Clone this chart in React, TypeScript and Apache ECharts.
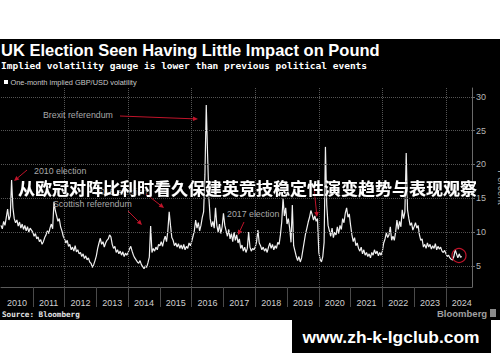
import React, { useEffect, useRef } from "react";
import * as echarts from "echarts";

// ---- Data (semi-monthly readings, % one-month implied GBP/USD vol) ----
const yearStarts = [2010, 2011, 2012, 2013, 2014, 2015, 2016, 2017, 2018, 2019, 2020, 2021, 2022, 2023, 2024];
const vol2010 = [11.0, 10.5, 11.6, 11.0, 12.2, 13.4, 11.8, 12.4, 17.7, 13.6, 12.0, 11.4, 11.8, 10.9, 11.5, 10.6, 11.2, 10.4, 11.0, 10.2, 10.8, 10.0, 10.6, 10.3];
const vol2011 = [10.0, 9.4, 9.8, 9.0, 9.3, 8.6, 8.9, 8.2, 8.6, 9.2, 9.6, 10.2, 9.8, 10.6, 11.2, 10.5, 14.5, 13.2, 12.4, 11.6, 12.0, 10.8, 10.2, 9.4];
const vol2012 = [9.0, 8.4, 8.8, 7.9, 8.2, 7.4, 7.8, 7.2, 8.0, 7.1, 7.4, 6.8, 7.0, 6.4, 6.8, 6.1, 6.5, 5.9, 6.2, 5.6, 5.4, 4.8, 5.2, 5.8];
const vol2013 = [6.5, 7.6, 8.4, 9.1, 8.2, 8.6, 7.8, 8.4, 8.8, 9.0, 9.6, 9.3, 8.2, 7.6, 7.9, 7.0, 7.4, 6.8, 7.2, 6.6, 7.1, 6.4, 6.9, 6.6];
const vol2014 = [7.0, 7.5, 7.9, 7.2, 6.6, 6.2, 5.9, 5.6, 5.4, 5.8, 5.2, 4.9, 4.6, 5.0, 4.8, 5.5, 6.3, 10.9, 7.0, 7.6, 7.2, 7.8, 7.4, 8.2];
const vol2015 = [8.0, 8.6, 7.9, 8.8, 9.4, 8.6, 10.2, 13.0, 11.0, 9.2, 8.8, 8.0, 8.4, 7.8, 8.3, 7.6, 8.1, 7.5, 8.2, 7.4, 7.9, 7.6, 8.4, 8.0];
const vol2016 = [8.6, 9.4, 10.2, 11.8, 10.6, 11.4, 10.2, 11.0, 12.2, 13.0, 18.5, 28.8, 21.5, 15.0, 12.0, 10.8, 11.6, 10.6, 13.6, 11.0, 10.0, 11.2, 9.8, 10.8];
const vol2017 = [12.8, 11.0, 10.2, 9.4, 10.4, 9.0, 9.8, 8.6, 10.0, 8.8, 9.6, 8.4, 9.0, 7.6, 8.1, 7.2, 7.8, 7.0, 7.6, 10.0, 7.8, 7.2, 7.6, 7.4];
const vol2018 = [7.8, 8.6, 10.3, 8.4, 8.0, 7.4, 7.8, 7.2, 7.6, 7.0, 7.8, 8.4, 7.6, 8.2, 7.4, 8.0, 7.6, 8.5, 8.2, 9.6, 11.5, 15.0, 12.4, 13.6];
const vol2019 = [11.2, 12.0, 10.6, 8.5, 14.0, 8.0, 7.2, 6.4, 5.8, 6.4, 5.6, 6.2, 7.4, 8.6, 9.8, 10.6, 11.5, 12.2, 13.2, 12.6, 11.8, 12.4, 11.6, 12.0];
const vol2020 = [7.0, 6.0, 5.6, 6.4, 8.5, 22.6, 14.0, 11.0, 10.2, 9.4, 10.6, 9.2, 10.0, 9.6, 10.8, 9.8, 11.0, 10.4, 12.0, 11.4, 12.8, 13.6, 12.2, 12.7];
const vol2021 = [11.0, 9.6, 8.6, 9.2, 8.0, 8.4, 7.6, 7.2, 7.8, 6.8, 7.4, 6.6, 7.0, 6.4, 6.8, 6.2, 7.0, 6.6, 7.4, 6.8, 7.2, 6.5, 7.0, 6.6];
const vol2022 = [7.2, 8.4, 9.0, 9.9, 9.2, 9.6, 10.8, 8.8, 9.4, 8.8, 10.0, 11.8, 10.4, 11.6, 10.8, 13.3, 12.0, 13.0, 21.7, 13.3, 12.0, 11.0, 11.4, 10.3];
const vol2023 = [10.8, 11.4, 10.6, 11.0, 9.6, 8.8, 9.0, 7.8, 8.2, 7.6, 8.4, 7.8, 8.2, 7.5, 8.0, 7.6, 8.3, 7.4, 7.9, 7.5, 7.8, 7.2, 7.0, 7.3];
const vol2024 = [6.8, 6.4, 6.6, 6.2, 6.0, 5.9, 6.4, 7.4, 6.8, 6.2, 6.8, 6.3, 6.4];
const volByYear = [vol2010, vol2011, vol2012, vol2013, vol2014, vol2015, vol2016, vol2017, vol2018, vol2019, vol2020, vol2021, vol2022, vol2023, vol2024];

const xTickYears = [2011, 2012, 2013, 2014, 2015, 2016, 2017, 2018, 2019, 2020, 2021, 2022, 2023, 2024];
const xLabelYears = [2010, 2011, 2012, 2013, 2014, 2015, 2016, 2017, 2018, 2019, 2020, 2021, 2022, 2023, 2024];
const gridYears = [2012, 2014, 2016, 2018, 2020, 2022, 2024];
const yTicks = [5, 10, 15, 20, 25, 30];

const titleText = "UK Election Seen Having Little Impact on Pound";
const subtitleText = "Implied volatility gauge is lower than previous political events";
const legendText = "One-month implied GBP/USD volatility";
const sourceText = "Source: Bloomberg";
const overlayText = "从欧冠对阵比利时看久保建英竞技稳定性演变趋势与表现观察";
const watermarkText = "www.zh-k-lgclub.com";

const annotationLabels = ["Brexit referendum", "2010 election", "2015 election", "Scottish referendum", "2017 election"];

const RED = "#c0142a";

function arrow(x1: number, y1: number, x2: number, y2: number) {
  const dx = x2 - x1;
  const dy = y2 - y1;
  const len = Math.sqrt(dx * dx + dy * dy);
  const ux = dx / len;
  const uy = dy / len;
  const hl = 5;
  const hw = 2.3;
  const bx = x2 - ux * hl;
  const by = y2 - uy * hl;
  return [
    {
      type: "line",
      z: 100,
      silent: true,
      shape: { x1, y1, x2: bx, y2: by },
      style: { stroke: RED, lineWidth: 1 },
    },
    {
      type: "polygon",
      z: 100,
      silent: true,
      shape: {
        points: [
          [x2, y2],
          [bx - uy * hw, by + ux * hw],
          [bx + uy * hw, by - ux * hw],
        ],
      },
      style: { fill: RED },
    },
  ];
}

function txt(text: string, x: number, y: number, opts: any) {
  const style: any = {
    text,
    fill: opts.fill ?? "#fff",
    fontSize: opts.fontSize ?? 9,
    fontWeight: opts.fontWeight ?? "normal",
    fontFamily: opts.fontFamily ?? "Liberation Sans",
    textAlign: opts.align ?? "left",
    textVerticalAlign: "middle",
  };
  if (opts.shadow) {
    style.textShadowColor = "rgba(0,0,0,0.95)";
    style.textShadowBlur = 3;
    style.textShadowOffsetX = 1;
    style.textShadowOffsetY = 1;
  }
  return { type: "text", z: opts.z ?? 100, silent: true, x, y, style };
}

export default function App() {
  const ref = useRef<HTMLDivElement>(null);

  useEffect(() => {
    if (!ref.current) return;
    const chart = echarts.init(ref.current, null, { renderer: "svg" });

    const lineData: [number, number][] = [];
    volByYear.forEach((arr, k) => {
      arr.forEach((v, i) => lineData.push([yearStarts[k] + i / 24, v]));
    });

    const graphic: any[] = [
      txt(titleText, 1, 50, { fontSize: 16.5, fontWeight: "bold" }),
      txt(subtitleText, 1, 65, { fontSize: 9.5, fontWeight: "bold", fontFamily: "DejaVu Sans Mono" }),
      { type: "rect", z: 100, silent: true, shape: { x: 4, y: 80, width: 4, height: 4 }, style: { fill: "#fff" } },
      txt(legendText, 10.5, 82.5, { fontSize: 7.4, fill: "#c8c8c8" }),
      txt(annotationLabels[0], 43, 115, { fontSize: 8.8, fill: "#a8a8a8" }),
      txt(annotationLabels[1], 34, 171, { fontSize: 8.8, fill: "#a8a8a8" }),
      txt(annotationLabels[2], 95, 192, { fontSize: 8.8, fill: "#a8a8a8" }),
      txt(annotationLabels[3], 53, 204, { fontSize: 8.8, fill: "#a8a8a8" }),
      txt(annotationLabels[4], 227, 214, { fontSize: 8.8, fill: "#a8a8a8" }),
      ...arrow(120, 116, 198, 119),
      ...arrow(27, 170, 14, 181),
      ...arrow(146, 194, 164, 208),
      ...arrow(128, 211, 142, 225),
      ...arrow(244, 222, 238, 235),
      ...arrow(314, 188, 317, 217),
      {
        type: "circle",
        z: 100,
        silent: true,
        shape: { cx: 459, cy: 255.5, r: 7 },
        style: { fill: "none", stroke: RED, lineWidth: 1.2 },
      },
      txt(sourceText, 2, 314, { fontSize: 7.6, fontWeight: "bold", fontFamily: "DejaVu Sans Mono", fill: "#e6e6e6" }),
      txt("Bloomberg", 437, 313, { fontSize: 9.5, fontWeight: "bold", fill: "#a0a0a0" }),
      { type: "rect", z: 100, silent: true, shape: { x: 490, y: 309, width: 6, height: 8 }, style: { fill: "#8a8a8a" } },
      txt(overlayText, 18, 187, {
        z: 120,
        fontSize: 17,
        fontWeight: "bold",
        fontFamily: "Noto Sans CJK SC",
        fill: "#ffffff",
        shadow: true,
      }),
      { type: "rect", z: 120, silent: true, shape: { x: 292, y: 320, width: 199, height: 33 }, style: { fill: "#000" } },
      txt(watermarkText, 391, 337, { z: 121, fontSize: 17.4, fontWeight: "bold", align: "center", fill: "#fff" }),
    ];

    chart.setOption({
      animation: false,
      backgroundColor: "transparent",
      grid: { left: 1, right: 28, top: 88, bottom: 75, containLabel: false, outerBoundsMode: "none" },
      xAxis: {
        type: "value",
        min: 2010,
        max: 2024.82,
        splitLine: { show: false },
        axisLine: { show: true, lineStyle: { color: "#5a5a5a", width: 1 } },
        axisTick: { show: true, customValues: xTickYears, length: 20, lineStyle: { color: "#4a4a4a" } },
        axisLabel: {
          customValues: xLabelYears.map((y) => y + 0.5),
          formatter: (v: number) => String(Math.floor(v)),
          color: "#cfcfcf",
          fontSize: 9,
          fontFamily: "Liberation Sans",
          margin: 11,
          hideOverlap: false,
        },
      },
      yAxis: {
        type: "value",
        position: "right",
        min: 1.9,
        max: 31.3,
        splitLine: { show: false },
        axisLine: { show: true, lineStyle: { color: "#6a6a6a" } },
        axisTick: { show: true, customValues: yTicks, length: 3, lineStyle: { color: "#6a6a6a" } },
        axisLabel: { customValues: yTicks, color: "#b5b5b5", fontSize: 9, fontFamily: "Liberation Sans", margin: 4 },
        name: "Percent",
        nameLocation: "middle",
        nameGap: 15,
        nameRotate: -90,
        nameTextStyle: { color: "#a0a0a0", fontSize: 10, fontFamily: "Liberation Sans" },
      },
      series: [
        {
          type: "line",
          data: lineData,
          showSymbol: false,
          symbol: "none",
          lineStyle: { color: "#f0f0f0", width: 1.2 },
          z: 3,
          markLine: {
            silent: true,
            symbol: ["none", "none"],
            label: { show: false },
            lineStyle: { type: "dotted", color: "#555", width: 1 },
            data: [...yTicks.map((v) => ({ yAxis: v })), ...gridYears.map((v) => ({ xAxis: v }))],
          },
        },
      ],
      graphic,
    });

    return () => chart.dispose();
  }, []);

  return (
    <div style={{ position: "absolute", left: 0, top: 0, width: 500, height: 362, background: "#fff" }}>
      <div style={{ position: "absolute", left: 0, top: 39, width: 500, height: 281, background: "#000" }} />
      <div ref={ref} style={{ position: "absolute", left: 0, top: 0, width: 500, height: 362 }} />
    </div>
  );
}
